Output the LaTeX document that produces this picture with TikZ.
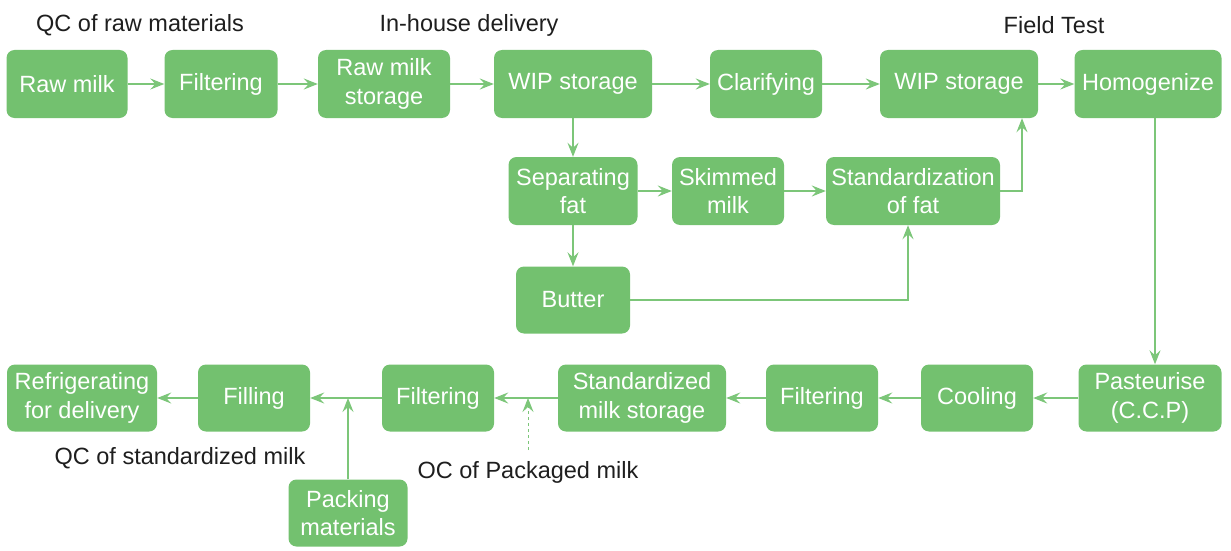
\documentclass[tikz,border=0pt]{standalone}
\usepackage{fontspec}
\setmainfont{Liberation Sans}
\usetikzlibrary{arrows.meta}
\definecolor{boxgreen}{HTML}{73C16F}
\definecolor{linegreen}{HTML}{7CC679}
\definecolor{notegray}{HTML}{1E1E1E}
\begin{document}
\begin{tikzpicture}[x=1pt,y=-1pt,
  stage/.style={fill=boxgreen, draw=none, rounded corners=8pt, text=white,
    align=center, font=\fontsize{23.5}{28.5}\selectfont, inner sep=0pt},
  flow/.style={draw=linegreen, line width=1.4pt,
    -{Stealth[length=14pt,width=11pt,inset=5pt]}},
  note/.style={font=\fontsize{23.5}{28}\selectfont, text=notegray, inner sep=0pt}]
\useasboundingbox (0,0) rectangle (1231,551);

% top row
\node[stage, minimum width=121pt, minimum height=68pt] (raw)    at (67,84)   {Raw milk};
\node[stage, minimum width=113pt, minimum height=68pt] (filtA)  at (221,84)  {Filtering};
\node[stage, minimum width=132pt, minimum height=68pt] (rms)    at (384,84)  {Raw milk\\storage};
\node[stage, minimum width=158pt, minimum height=68pt] (wipA)   at (573,84)  {WIP storage};
\node[stage, minimum width=112pt, minimum height=68pt] (clar)   at (766,84)  {Clarifying};
\node[stage, minimum width=158pt, minimum height=68pt] (wipB)   at (959,84)  {WIP storage};
\node[stage, minimum width=147pt, minimum height=68pt] (homog)  at (1148,84) {Homogenize};

% fat separation branch
\node[stage, minimum width=129pt, minimum height=68pt] (sep)    at (573,191) {Separating\\fat};
\node[stage, minimum width=112pt, minimum height=68pt] (skim)   at (728,191) {Skimmed\\milk};
\node[stage, minimum width=174pt, minimum height=68pt] (std)    at (913,191) {Standardization\\of fat};
\node[stage, minimum width=114pt, minimum height=67pt] (butter) at (573,300) {Butter};

% bottom row
\node[stage, minimum width=143pt, minimum height=67pt] (past)   at (1150,398) {Pasteurise\\(C.C.P)};
\node[stage, minimum width=112pt, minimum height=67pt] (cool)   at (977,398)  {Cooling};
\node[stage, minimum width=112pt, minimum height=67pt] (filtB)  at (822,398)  {Filtering};
\node[stage, minimum width=168pt, minimum height=67pt] (sms)    at (642,398)  {Standardized\\milk storage};
\node[stage, minimum width=112pt, minimum height=67pt] (filtC)  at (438,398)  {Filtering};
\node[stage, minimum width=112pt, minimum height=67pt] (fill)   at (254,398)  {Filling};
\node[stage, minimum width=150pt, minimum height=67pt] (refr)   at (82,398)   {Refrigerating\\for delivery};
\node[stage, minimum width=119pt, minimum height=67pt] (pack)   at (348,513)  {Packing\\materials};

% annotations
\node[note] (qcraw)  at (140,25)  {QC of raw materials};
\node[note] (inhouse) at (469,25) {In-house delivery};
\node[note] (field)  at (1054,25) {Field Test};
\node[note] (qcstd)  at (180,458) {QC of standardized milk};
\node[note] (ocpack) at (528,472) {OC of Packaged milk};

% main flow
\draw[flow] (raw.east) -- (filtA.west);
\draw[flow] (filtA.east) -- (rms.west);
\draw[flow] (rms.east) -- (wipA.west);
\draw[flow] (wipA.east) -- (clar.west);
\draw[flow] (clar.east) -- (wipB.west);
\draw[flow] (wipB.east) -- (homog.west);

\draw[flow] (wipA.south) -- (sep.north);
\draw[flow] (sep.east) -- (skim.west);
\draw[flow] (skim.east) -- (std.west);
\draw[flow] (sep.south) -- (butter.north);
\draw[flow] (butter.east) -| ([xshift=-5pt]std.south);
\draw[flow] (std.east) -| ([xshift=63pt]wipB.south);

\draw[flow] ([xshift=7pt]homog.south) -- ([xshift=5pt]past.north);
\draw[flow] (past.west) -- (cool.east);
\draw[flow] (cool.west) -- (filtB.east);
\draw[flow] (filtB.west) -- (sms.east);
\draw[flow] (sms.west) -- (filtC.east);
\draw[flow] (filtC.west) -- (fill.east);
\draw[flow] (fill.west) -- (refr.east);

\draw[flow] (pack.north) -- (pack.north |- fill.east);
\coordinate (ocfoot) at (528,450);
\draw[flow, line width=1pt, dash pattern=on 3pt off 3pt] (ocfoot) -- (ocfoot |- sms.west);
\end{tikzpicture}
\end{document}
